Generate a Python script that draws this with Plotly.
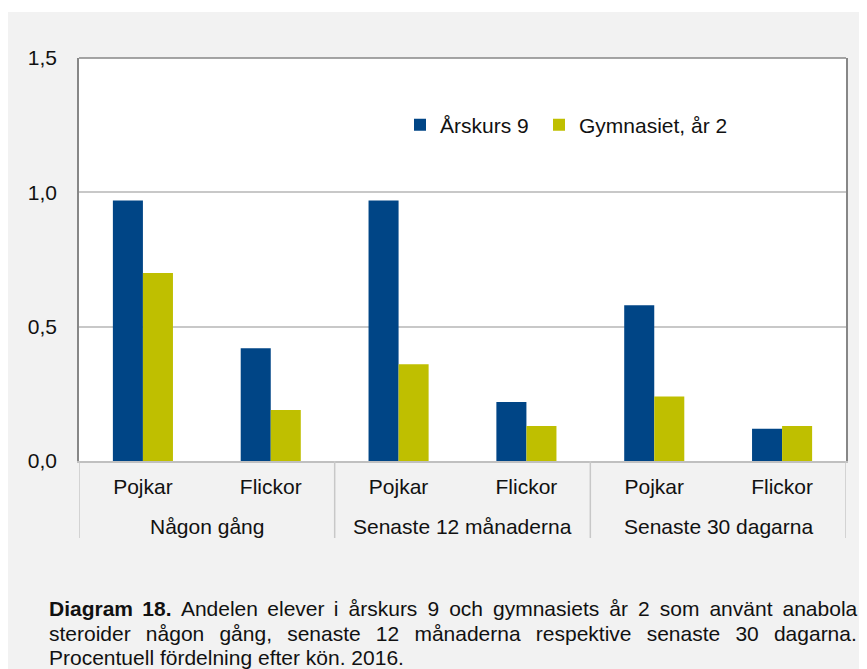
import plotly.graph_objects as go

group_labels = ["Någon gång", "Senaste 12 månaderna", "Senaste 30 dagarna"]
genders = ["Pojkar", "Flickor", "Pojkar", "Flickor", "Pojkar", "Flickor"]
arskurs9 = [0.97, 0.42, 0.97, 0.22, 0.58, 0.12]
gymnasiet = [0.70, 0.19, 0.36, 0.13, 0.24, 0.13]
y_ticks = [0.0, 0.5, 1.0, 1.5]

FONT = "Liberation Sans, Arial, sans-serif"
TXT = "#111111"
BLUE = "#004586"
OLIVE = "#BFBF00"

# page has an 8px body margin: figure pixel = page pixel - 8
W, H = 859, 661
ML, MR, MT, MB = 71, 21, 50, 208
PW = W - ML - MR
PH = H - MT - MB


def px_x(p):
    return (p - ML) / PW


def px_y(p):
    return (H - MB - p) / PH


xpos = list(range(len(genders)))
per_group = len(genders) // len(group_labels)

fig = go.Figure()
fig.add_trace(go.Bar(x=xpos, y=arskurs9, name="Årskurs 9", legend="legend",
                     marker=dict(color=BLUE, line=dict(width=0))))
fig.add_trace(go.Bar(x=xpos, y=gymnasiet, name="Gymnasiet, år 2", legend="legend2",
                     marker=dict(color=OLIVE, line=dict(width=0))))

shapes = [
    dict(type="rect", xref="paper", yref="paper", x0=px_x(-5), x1=px_x(W + 5),
         y0=px_y(4), y1=px_y(-5), fillcolor="white", line=dict(width=0), layer="below"),
    dict(type="line", xref="paper", yref="paper", x0=0, x1=1, y0=1, y1=1,
         line=dict(color="#878787", width=1.5)),
]
# group dividers below the axis
for g in range(len(group_labels) + 1):
    xd = g * per_group - 0.5
    shapes.append(dict(type="line", xref="x", yref="paper", x0=xd, x1=xd,
                       y0=0, y1=px_y(530), line=dict(color="#C8C8C8", width=1.5)))

annotations = []
for g, lab in enumerate(group_labels):
    xc = g * per_group + (per_group - 1) / 2
    annotations.append(dict(text=lab, xref="x", yref="paper", x=xc, y=px_y(518),
                            xanchor="center", yanchor="middle", showarrow=False,
                            font=dict(family=FONT, size=21, color=TXT)))


def join_words(words, gaps):
    out = words[0]
    for w, g in zip(words[1:], gaps):
        out += g + w
    return out


words1 = ["<b>Diagram", "18.</b>", "Andelen", "elever", "i", "årskurs", "9", "och",
          "gymnasiets", "år", "2", "som", "använt", "anabola"]
gaps1 = [" \u2006"] * 4 + [" \u2009"] * (len(words1) - 5)
words2 = ["steroider", "någon", "gång,", "senaste", "12", "månaderna", "respektive",
          "senaste", "30", "dagarna."]
gaps2 = [" \u00a0\u2006"] * (len(words2) - 1)

line1 = join_words(words1, gaps1)
line2 = join_words(words2, gaps2)
line3 = "Procentuell fördelning efter kön. 2016."
caption_lines = [line1, line2, line3]
caption_y = [600, 625, 649]
for line, yy in zip(caption_lines, caption_y):
    annotations.append(dict(text=line, xref="paper", yref="paper", x=px_x(39), y=px_y(yy),
                            xanchor="left", yanchor="middle", showarrow=False, align="left",
                            font=dict(family=FONT, size=21, color=TXT)))

legend_common = dict(orientation="h", xanchor="left", yanchor="middle",
                     bgcolor="rgba(0,0,0,0)", font=dict(family=FONT, size=21, color=TXT),
                     itemclick=False, itemdoubleclick=False)

fig.update_layout(
    width=W, height=H,
    margin=dict(l=ML, r=MR, t=MT, b=MB, pad=0),
    paper_bgcolor="#F2F2F2",
    plot_bgcolor="white",
    separators=", ",
    barmode="group",
    bargap=0.53,
    bargroupgap=0,
    font=dict(family=FONT, size=21, color=TXT),
    showlegend=True,
    legend=dict(x=px_x(392), y=px_y(117), **legend_common),
    legend2=dict(x=px_x(531), y=px_y(117), **legend_common),
    shapes=shapes,
    annotations=annotations,
)
fig.update_yaxes(range=[0, 1.5], tickvals=y_ticks, tickformat=".1f",
                 showgrid=True, gridcolor="#C8C8C8", gridwidth=1.5,
                 showline=True, linecolor="#878787", linewidth=1.5, mirror=True,
                 ticks="", ticklabelstandoff=16, zeroline=False,
                 tickfont=dict(family=FONT, size=21, color=TXT))
fig.update_xaxes(range=[-0.5, len(genders) - 0.5], tickvals=xpos, ticktext=genders,
                 showgrid=False, zeroline=False,
                 showline=True, linecolor="#C0C0C0", linewidth=2,
                 ticks="", ticklabelstandoff=6,
                 tickfont=dict(family=FONT, size=21, color=TXT))

fig.write_html("out.html")
